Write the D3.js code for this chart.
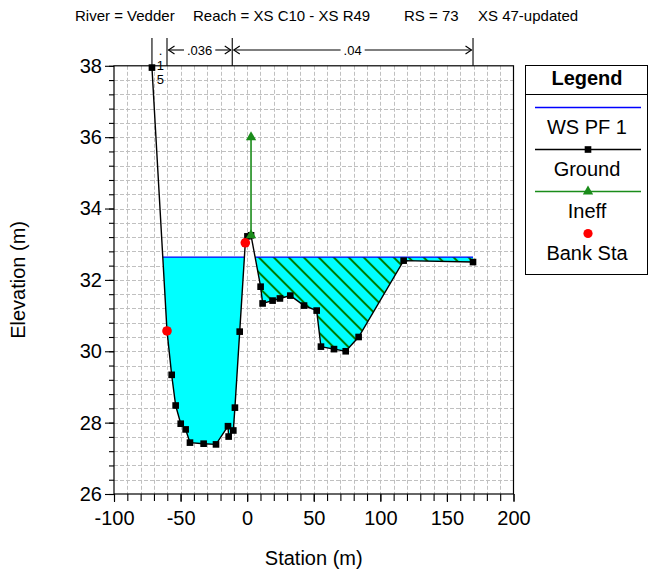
<!DOCTYPE html>
<html>
<head>
<meta charset="utf-8">
<script src="https://cdn.jsdelivr.net/npm/d3@7"></script>
<style>
  html, body { margin: 0; padding: 0; background: #fff; }
  svg { display: block; font-family: "Liberation Sans", Arial, Helvetica, sans-serif; }
</style>
</head>
<body>
<svg id="chart" width="649" height="573"></svg>
<script>
// ---------------- data ----------------
const groundSta  = [-71.5, -60.2, -56.7, -53.7, -49.9, -46.2, -42.95, -32.7, -23.4, -14.4, -13.9, -10.4, -9.2, -5.6, -1.4, 0.2, 2.9, 10.1, 11.6, 19.1, 24.6, 32.4, 42.7, 52.2, 55.4, 65.2, 74.0, 83.7, 117.5, 169.6];
const groundElev = [37.95, 30.57, 29.34, 28.48, 27.97, 27.81, 27.44, 27.41, 27.39, 27.90, 27.61, 27.78, 28.42, 30.55, 33.04, 33.22, 33.25, 31.81, 31.34, 31.42, 31.48, 31.56, 31.28, 31.14, 30.13, 30.06, 30.00, 30.40, 32.54, 32.50];
const bankSta  = [-60.2, -1.4];
const bankElev = [30.57, 33.04];
const wsElev = 32.64;
const ineffSta = [2.9];
const ineffElev = [36.0];
const nBreaks = [-71.5, -60.2, -11.2, 169.6];
const nLabels = [".15", ".036", ".04"];
const xTickLabels = [-100, -50, 0, 50, 100, 150, 200];
const yTickLabels = [26, 28, 30, 32, 34, 36, 38];
const legendItems = ["WS PF 1", "Ground", "Ineff", "Bank Sta"];
const titleParts = ["River = Vedder", "Reach = XS C10 - XS R49", "RS = 73", "XS 47-updated"];

// ---------------- layout ----------------
const svg = d3.select("#chart");
const L = 114, R = 513.5, T = 65.8, B = 494;
const x = d3.scaleLinear().domain([-100, 200]).range([L, R]);
const y = d3.scaleLinear().domain([26, 38]).range([B, T]);

svg.append("rect").attr("width", 649).attr("height", 573).attr("fill", "#fff");

// hatch pattern
const defs = svg.append("defs");
const pat = defs.append("pattern").attr("id", "hatch")
  .attr("patternUnits", "userSpaceOnUse").attr("width", 10.6).attr("height", 10)
  .attr("patternTransform", "rotate(-45)");
pat.append("rect").attr("width", 10.6).attr("height", 10).attr("fill", "#00ffff");
pat.append("line").attr("x1", 1).attr("y1", -1).attr("x2", 1).attr("y2", 11)
  .attr("stroke", "#007a00").attr("stroke-width", 2);

// title
const titleX = [75, 193, 404, 478];
svg.selectAll("text.title").data(titleParts).join("text").attr("class", "title")
  .attr("x", (d, i) => titleX[i]).attr("y", 21).attr("font-size", 15).attr("fill", "#000").text(d => d);

// grid
const xGrid = d3.range(-90, 200, 10);
const yGrid = d3.range(1, 30).map(i => 26 + i * 0.4);
const gGrid = svg.append("g").attr("stroke", "#c0c0c0").attr("stroke-width", 1).attr("stroke-dasharray", "4,2");
gGrid.selectAll("line.gx").data(xGrid).join("line").attr("class", "gx")
  .attr("x1", d => Math.round(x(d)) + 0.5).attr("x2", d => Math.round(x(d)) + 0.5).attr("y1", T).attr("y2", B);
gGrid.selectAll("line.gy").data(yGrid).join("line").attr("class", "gy")
  .attr("y1", d => Math.round(y(d)) + 0.5).attr("y2", d => Math.round(y(d)) + 0.5).attr("x1", L).attr("x2", R);

// water polygons (clip ground below WS)
const pts = groundSta.map((s, i) => [s, groundElev[i]]);
const runs = [];
let cur = null;
for (let i = 0; i < pts.length; i++) {
  const p = pts[i];
  if (i > 0) {
    const q = pts[i - 1];
    if ((q[1] - wsElev) * (p[1] - wsElev) < 0) {
      const t = (wsElev - q[1]) / (p[1] - q[1]);
      const xi = q[0] + t * (p[0] - q[0]);
      if (cur) { cur.push([xi, wsElev]); runs.push(cur); cur = null; }
      else { cur = [[xi, wsElev]]; }
    }
  }
  if (p[1] <= wsElev) { if (!cur) cur = [[p[0], wsElev]]; cur.push(p); }
}
if (cur) { cur.push([cur[cur.length - 1][0], wsElev]); runs.push(cur); }

const line = d3.line().x(d => x(d[0])).y(d => y(d[1]));
runs.forEach(r => {
  const hatched = r[0][0] >= ineffSta[0];
  svg.append("path").attr("d", line(r) + "Z")
    .attr("fill", hatched ? "url(#hatch)" : "#00ffff").attr("stroke", "none");
  svg.append("line").attr("x1", x(r[0][0])).attr("x2", x(r[r.length - 1][0]))
    .attr("y1", y(wsElev)).attr("y2", y(wsElev)).attr("stroke", "#0000ff").attr("stroke-width", 1.2);
});

// ground line
svg.append("path").attr("d", line(pts)).attr("fill", "none").attr("stroke", "#000").attr("stroke-width", 1.4);
svg.selectAll("path.gm").data(pts).join("path").attr("class", "gm")
  .attr("d", d3.symbol(d3.symbolSquare, 44)())
  .attr("transform", d => `translate(${x(d[0])},${y(d[1])})`).attr("fill", "#000");

// bank stations
svg.selectAll("circle.bank").data(bankSta).join("circle").attr("class", "bank")
  .attr("cx", d => x(d)).attr("cy", (d, i) => y(bankElev[i])).attr("r", 4.8).attr("fill", "#ff0000");

// ineffective flow marker
function groundAt(s) {
  for (let i = 1; i < pts.length; i++) {
    if (s >= pts[i - 1][0] && s <= pts[i][0]) {
      const t = (s - pts[i - 1][0]) / (pts[i][0] - pts[i - 1][0]);
      return pts[i - 1][1] + t * (pts[i][1] - pts[i - 1][1]);
    }
  }
  return pts[0][1];
}
ineffSta.forEach((s, i) => {
  const g0 = groundAt(s);
  svg.append("line").attr("x1", x(s)).attr("x2", x(s)).attr("y1", y(g0)).attr("y2", y(ineffElev[i]))
    .attr("stroke", "#1a8c1a").attr("stroke-width", 1.6);
  [g0, ineffElev[i]].forEach(e => {
    svg.append("path").attr("d", d3.symbol(d3.symbolTriangle, 46)())
      .attr("transform", `translate(${x(s)},${y(e)})`).attr("fill", "#1a8c1a");
  });
});

// frame
svg.append("rect").attr("x", L).attr("y", T).attr("width", R - L).attr("height", B - T)
  .attr("fill", "none").attr("stroke", "#000").attr("stroke-width", 1.2);

// axes
const xMinor = d3.range(-100, 201, 10);
const yMinor = d3.range(0, 31).map(i => 26 + i * 0.4);
const axMinX = d3.axisBottom(x).tickValues(xMinor).tickSize(7).tickFormat("");
const axMajX = d3.axisBottom(x).tickValues(xTickLabels).tickSize(8).tickPadding(9).tickFormat(d => String(d));
const axMinY = d3.axisLeft(y).tickValues(yMinor).tickSize(5).tickFormat("");
const axMajY = d3.axisLeft(y).tickValues(yTickLabels).tickSize(9).tickPadding(3).tickFormat(d => String(d));
[axMinX, axMajX].forEach(a => svg.append("g").attr("transform", `translate(0,${B})`).call(a));
[axMinY, axMajY].forEach(a => svg.append("g").attr("transform", `translate(${L},0)`).call(a));
svg.selectAll(".domain").remove();
svg.selectAll(".tick line").attr("stroke", "#000").attr("stroke-width", 1.1);
svg.selectAll(".tick text").attr("font-size", 20).attr("fill", "#000")
  .attr("font-family", "'Liberation Sans', Arial, sans-serif");

// axis titles
svg.append("text").attr("x", (L + R) / 2).attr("y", 565).attr("text-anchor", "middle")
  .attr("font-size", 20).text("Station (m)");
svg.append("text").attr("transform", `translate(25,${(T + B) / 2}) rotate(-90)`).attr("text-anchor", "middle")
  .attr("font-size", 20).text("Elevation (m)");

// n-value annotations
const ay = 50;
const gN = svg.append("g").attr("stroke", "#000").attr("stroke-width", 1.1).attr("fill", "none");
nBreaks.forEach(s => {
  gN.append("line").attr("x1", x(s)).attr("x2", x(s)).attr("y1", 38).attr("y2", T);
});
nLabels.forEach((lab, i) => {
  const x0 = x(nBreaks[i]), x1 = x(nBreaks[i + 1]), mid = (x0 + x1) / 2;
  if (x1 - x0 > 40) {
    const t = svg.append("text").attr("x", mid).attr("y", ay + 4.5).attr("text-anchor", "middle")
      .attr("font-size", 13).text(lab);
    const w = t.node().getComputedTextLength();
    gN.append("line").attr("x1", x0 + 1.5).attr("x2", mid - w / 2 - 3).attr("y1", ay).attr("y2", ay);
    gN.append("line").attr("x1", mid + w / 2 + 3).attr("x2", x1 - 1.5).attr("y1", ay).attr("y2", ay);
    gN.append("path").attr("d", `M${x0 + 7.5},${ay - 4}L${x0 + 1.5},${ay}L${x0 + 7.5},${ay + 4}`);
    gN.append("path").attr("d", `M${x1 - 7.5},${ay - 4}L${x1 - 1.5},${ay}L${x1 - 7.5},${ay + 4}`);
  } else {
    const chars = lab.split("");
    const t = svg.append("text").attr("text-anchor", "middle").attr("font-size", 13);
    chars.forEach((c, k) => {
      t.append("tspan").attr("x", mid + 1).attr("y", 55 + k * 14.5).text(c);
    });
  }
});

// legend
const lx0 = 525, lx1 = 647, ly0 = 65, ly1 = 274;
svg.append("rect").attr("x", lx0 + 0.5).attr("y", ly0 + 0.5).attr("width", lx1 - lx0).attr("height", ly1 - ly0)
  .attr("fill", "#fff").attr("stroke", "#000").attr("stroke-width", 1);
svg.append("line").attr("x1", lx0).attr("x2", lx1).attr("y1", 94.5).attr("y2", 94.5).attr("stroke", "#000");
const lcx = (lx0 + lx1) / 2 + 1;
svg.append("text").attr("x", lcx).attr("y", 85).attr("text-anchor", "middle")
  .attr("font-size", 20).attr("font-weight", "bold").text("Legend");
const lineY = [107.5, 149.5, 191.5, 233.5];
const lineColors = ["#0000ff", "#000", "#1a8c1a", null];
legendItems.forEach((name, i) => {
  const ly = lineY[i];
  if (lineColors[i]) {
    svg.append("line").attr("x1", 535).attr("x2", 641).attr("y1", ly).attr("y2", ly)
      .attr("stroke", lineColors[i]).attr("stroke-width", 1.3);
  }
  if (i === 1) svg.append("path").attr("d", d3.symbol(d3.symbolSquare, 44)()).attr("transform", `translate(588,${ly})`).attr("fill", "#000");
  if (i === 2) svg.append("path").attr("d", d3.symbol(d3.symbolTriangle, 46)()).attr("transform", `translate(588,${ly})`).attr("fill", "#1a8c1a");
  if (i === 3) svg.append("circle").attr("cx", 588).attr("cy", ly).attr("r", 4.6).attr("fill", "#ff0000");
  svg.append("text").attr("x", lcx).attr("y", ly + 26).attr("text-anchor", "middle")
    .attr("font-size", 20).text(name);
});
</script>
</body>
</html>
